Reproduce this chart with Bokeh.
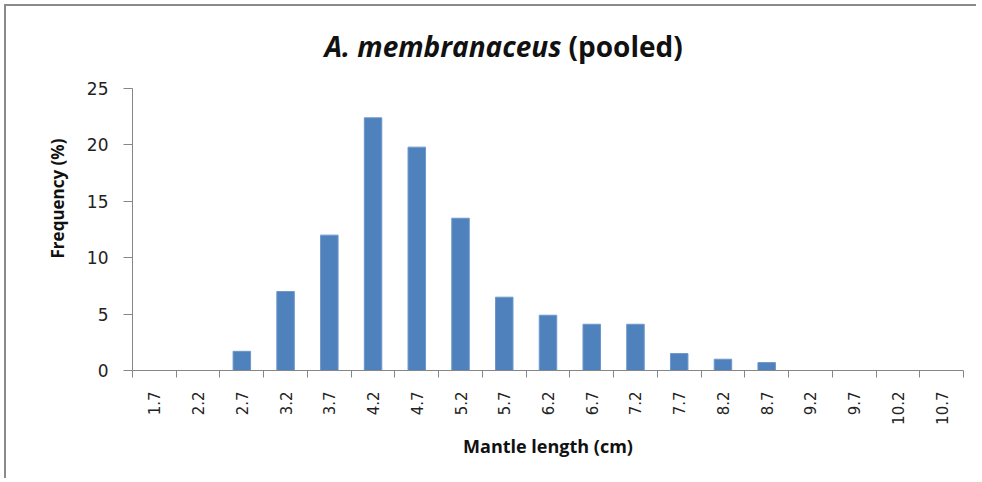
from bokeh.plotting import figure
from bokeh.models import FixedTicker, PrintfTickFormatter, Label, Range1d
from bokeh.embed import file_html
from bokeh.resources import INLINE
import math

# Data (bin centres in cm, frequency in %)
mantle_length = [1.7, 2.2, 2.7, 3.2, 3.7, 4.2, 4.7, 5.2, 5.7, 6.2,
                 6.7, 7.2, 7.7, 8.2, 8.7, 9.2, 9.7, 10.2, 10.7]
frequency = [0, 0, 1.7, 7.0, 12.0, 22.4, 19.8, 13.5, 6.5, 4.9,
             4.1, 4.1, 1.5, 1.0, 0.7, 0, 0, 0, 0]
y_ticks = [0, 5, 10, 15, 20, 25]

bin_w = 0.5
edges = [v - bin_w / 2 for v in mantle_length] + [mantle_length[-1] + bin_w / 2]

W, H = 972, 474
TOP, BOTTOM = 20, 110
frame_h = H - TOP - BOTTOM
axis_px = 282  # pixel height of the 0..25 axis
y_end = y_ticks[-1] * frame_h / axis_px

p = figure(width=W, height=H, output_backend="svg", toolbar_location=None,
           x_range=Range1d(edges[0], edges[-1]), y_range=Range1d(0, y_end),
           min_border_left=126, min_border_right=15, min_border_top=TOP,
           min_border_bottom=BOTTOM)
p.styles = {"border-top": "2px solid #8a8a8a", "border-left": "2px solid #8a8a8a",
            "margin-left": "4px", "margin-top": "4px"}
p.outline_line_color = None
p.background_fill_color = "white"
p.border_fill_color = "white"
p.xgrid.visible = False
p.ygrid.visible = False

p.vbar(x=mantle_length, top=frequency, width=bin_w * 0.4,
       fill_color="#4F81BD", line_color="#6E97CB", line_width=1)

axis_color = "#868686"
tick_font = "DejaVu Sans"
lab_font = "Open Sans"

xa = p.xaxis[0]
xa.ticker = FixedTicker(ticks=mantle_length, minor_ticks=edges)
xa.formatter = PrintfTickFormatter(format="%.1f")
xa.major_label_orientation = math.pi / 2
xa.major_tick_out = 0
xa.major_tick_in = 0
xa.minor_tick_out = 7
xa.minor_tick_in = 0
xa.minor_tick_line_color = axis_color
xa.axis_line_color = axis_color
xa.major_label_standoff = 14
xa.major_label_text_font = tick_font
xa.major_label_text_font_size = "15px"
xa.major_label_text_color = "#222222"
xa.axis_label = "Mantle length (cm)"
xa.axis_label_text_font = lab_font
xa.axis_label_text_font_style = "bold"
xa.axis_label_text_font_size = "18px"
xa.axis_label_text_color = "#111111"
xa.axis_label_standoff = 6

ya = p.yaxis[0]
ya.ticker = FixedTicker(ticks=y_ticks, minor_ticks=[])
ya.bounds = (y_ticks[0], y_ticks[-1])
ya.major_tick_out = 9
ya.major_tick_in = 0
ya.minor_tick_out = 0
ya.major_tick_line_color = axis_color
ya.axis_line_color = axis_color
ya.major_label_standoff = 15
ya.major_label_text_font = tick_font
ya.major_label_text_font_size = "17px"
ya.major_label_text_color = "#222222"
ya.axis_label = "Frequency (%)"
ya.axis_label_text_font = lab_font
ya.axis_label_text_font_style = "bold"
ya.axis_label_text_font_size = "17px"
ya.axis_label_text_color = "#111111"
ya.axis_label_standoff = 15

title_y = axis_px + 43
t1 = Label(x=429, y=title_y, x_units="screen", y_units="screen",
           text="A. membranaceus", text_align="right", text_baseline="alphabetic",
           text_font=lab_font, text_font_style="bold italic", text_font_size="28px",
           text_color="#111111")
t2 = Label(x=436, y=title_y, x_units="screen", y_units="screen",
           text="(pooled)", text_align="left", text_baseline="alphabetic",
           text_font=lab_font, text_font_style="bold", text_font_size="28px",
           text_color="#111111")
p.add_layout(t1)
p.add_layout(t2)

open("out.html", "w").write(file_html(p, INLINE))
